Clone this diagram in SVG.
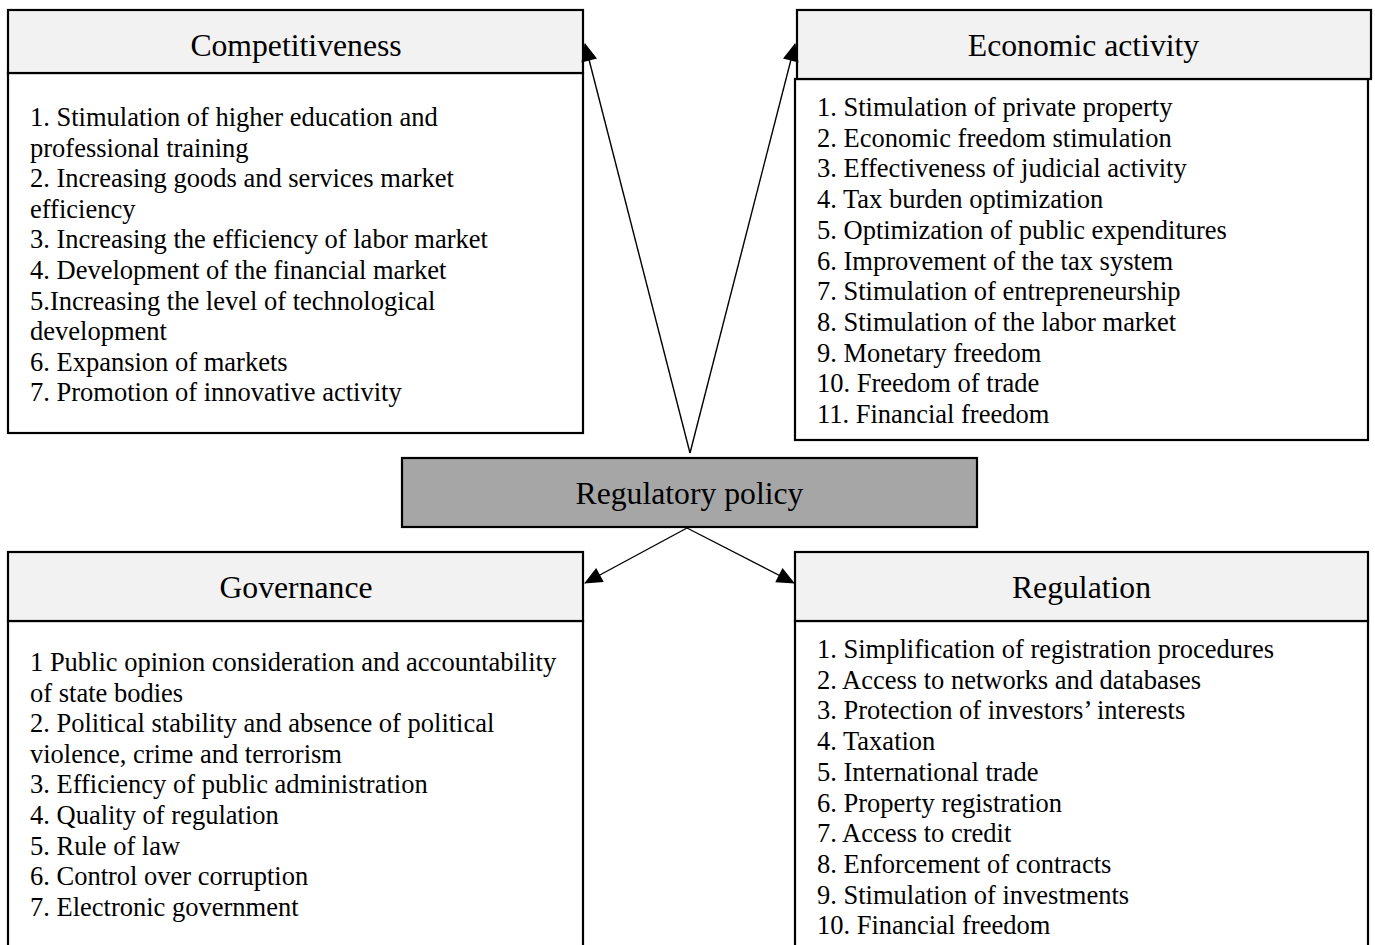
<svg xmlns="http://www.w3.org/2000/svg" width="1375" height="945" viewBox="0 0 1375 945">
  <style>
    .hdr { fill: #f2f2f2; stroke: #000; stroke-width: 2.2; }
    .body { fill: #fff; stroke: #000; stroke-width: 2.2; }
    .core { fill: #a6a6a6; stroke: #000; stroke-width: 2.2; }
    .title { font-family: "Liberation Serif", "Times New Roman", serif; font-size: 31.7px; fill: #000; text-anchor: middle; }
    .item { font-family: "Liberation Serif", "Times New Roman", serif; font-size: 26.5px; fill: #000; }
    .link { stroke: #000; stroke-width: 1.4; fill: none; marker-end: url(#tip); }
  </style>
  <defs>
    <marker id="tip" viewBox="0 0 18 16" refX="17" refY="8" markerWidth="18" markerHeight="16" markerUnits="userSpaceOnUse" orient="auto" overflow="visible">
      <path d="M0,0 L18,8 L0,16 z" fill="#000"/>
    </marker>
  </defs>

  <rect width="1375" height="945" fill="#fff"/>

  <!-- Central node -->
  <g id="regulatory-policy">
    <rect class="core" x="402" y="458" width="575" height="69"/>
    <text class="title" x="689.5" y="504">Regulatory policy</text>
  </g>

  <!-- Competitiveness -->
  <g id="competitiveness">
    <rect class="body" x="8" y="73" width="575" height="360"/>
    <rect class="hdr" x="8" y="10" width="575" height="63"/>
    <text class="title" x="296" y="56">Competitiveness</text>
    <text class="item" x="30" y="126">1. Stimulation of higher education and</text>
    <text class="item" x="30" y="156.6">professional training</text>
    <text class="item" x="30" y="187.2">2. Increasing goods and services market</text>
    <text class="item" x="30" y="217.8">efficiency</text>
    <text class="item" x="30" y="248.4">3. Increasing the efficiency of labor market</text>
    <text class="item" x="30" y="279">4. Development of the financial market</text>
    <text class="item" x="30" y="309.6">5.Increasing the level of technological</text>
    <text class="item" x="30" y="340.2">development</text>
    <text class="item" x="30" y="370.8">6. Expansion of markets</text>
    <text class="item" x="30" y="401.4">7. Promotion of innovative activity</text>
  </g>

  <!-- Economic activity -->
  <g id="economic-activity">
    <rect class="body" x="795" y="79" width="573" height="361"/>
    <rect class="hdr" x="797" y="10" width="574" height="69"/>
    <text class="title" x="1083.5" y="56">Economic activity</text>
    <text class="item" x="817" y="116">1. Stimulation of private property</text>
    <text class="item" x="817" y="146.7">2. Economic freedom stimulation</text>
    <text class="item" x="817" y="177.4">3. Effectiveness of judicial activity</text>
    <text class="item" x="817" y="208.1">4. Tax burden optimization</text>
    <text class="item" x="817" y="238.8">5. Optimization of public expenditures</text>
    <text class="item" x="817" y="269.5">6. Improvement of the tax system</text>
    <text class="item" x="817" y="300.2">7. Stimulation of entrepreneurship</text>
    <text class="item" x="817" y="330.9">8. Stimulation of the labor market</text>
    <text class="item" x="817" y="361.6">9. Monetary freedom</text>
    <text class="item" x="817" y="392.3">10. Freedom of trade</text>
    <text class="item" x="817" y="423">11. Financial freedom</text>
  </g>

  <!-- Governance -->
  <g id="governance">
    <rect class="body" x="8" y="621" width="575" height="330"/>
    <rect class="hdr" x="8" y="552" width="575" height="69"/>
    <text class="title" x="296" y="598">Governance</text>
    <text class="item" x="30" y="671">1 Public opinion consideration and accountability</text>
    <text class="item" x="30" y="701.6">of state bodies</text>
    <text class="item" x="30" y="732.2">2. Political stability and absence of political</text>
    <text class="item" x="30" y="762.8">violence, crime and terrorism</text>
    <text class="item" x="30" y="793.4">3. Efficiency of public administration</text>
    <text class="item" x="30" y="824">4. Quality of regulation</text>
    <text class="item" x="30" y="854.6">5. Rule of law</text>
    <text class="item" x="30" y="885.2">6. Control over corruption</text>
    <text class="item" x="30" y="915.8">7. Electronic government</text>
  </g>

  <!-- Regulation -->
  <g id="regulation">
    <rect class="body" x="795" y="621" width="573" height="330"/>
    <rect class="hdr" x="795" y="552" width="573" height="69"/>
    <text class="title" x="1081.5" y="598">Regulation</text>
    <text class="item" x="817" y="658">1. Simplification of registration procedures</text>
    <text class="item" x="817" y="688.7">2. Access to networks and databases</text>
    <text class="item" x="817" y="719.4">3. Protection of investors’ interests</text>
    <text class="item" x="817" y="750.1">4. Taxation</text>
    <text class="item" x="817" y="780.8">5. International trade</text>
    <text class="item" x="817" y="811.5">6. Property registration</text>
    <text class="item" x="817" y="842.2">7. Access to credit</text>
    <text class="item" x="817" y="872.9">8. Enforcement of contracts</text>
    <text class="item" x="817" y="903.6">9. Stimulation of investments</text>
    <text class="item" x="817" y="934.3">10. Financial freedom</text>
  </g>

  <!-- Connectors -->
  <g id="connectors">
    <line class="link" x1="690" y1="453" x2="585" y2="44"/>
    <line class="link" x1="690" y1="453" x2="795" y2="44"/>
    <line class="link" x1="687" y1="528" x2="585" y2="583"/>
    <line class="link" x1="687" y1="528" x2="794" y2="583"/>
  </g>
</svg>
